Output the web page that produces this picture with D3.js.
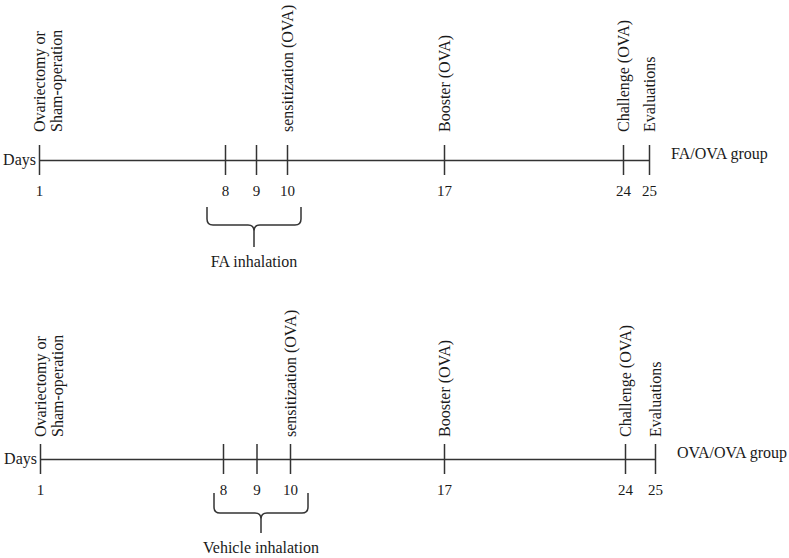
<!DOCTYPE html>
<html>
<head>
<meta charset="utf-8">
<script src="https://cdn.jsdelivr.net/npm/d3@7"></script>
<style>
  body { margin: 0; background: #fff; }
  text { font-family: "Liberation Serif", "Times New Roman", serif; fill: #1a1a1a; }
</style>
</head>
<body>
<div id="chart-area"></div>
<script>
// timeline data
var days = [1, 8, 9, 10, 17, 24, 25];
var eventDays = [1, 10, 17, 24, 25];
var eventLabels = [
    ["Ovariectomy or", "Sham-operation"],
    ["sensitization (OVA)"],
    ["Booster (OVA)"],
    ["Challenge (OVA)"],
    ["Evaluations"]
];
var groups = ["FA/OVA group", "OVA/OVA group"];
var inhalations = ["FA inhalation", "Vehicle inhalation"];
var inhalationDays = [8, 10];

// drawing is schematic (days 8-10 spread out), so piecewise scale
var scaleDays = [1, 8, 10, 17, 24, 25];
var panels = [
    {axisY: 160, range: [39, 225, 287, 444, 623, 649], labelGap: 28, brace: [47, 65, 87], braceLabel: 107, braceX: [-18, 14]},
    {axisY: 459, range: [40, 223, 290, 444, 625, 655], labelGap: 22, brace: [34, 54, 74], braceLabel: 94, braceX: [-9, 18]}
];

var lineColor = "#333";

var svg = d3.select("#chart-area")
  .append("svg")
    .attr("width", 789)
    .attr("height", 558);

panels.forEach((p, k) => {
    var x = d3.scaleLinear()
        .domain(scaleDays)
        .range(p.range);

    var g = svg.append("g")
        .attr("transform", "translate(0, " + p.axisY + ")");

    var axis = d3.axisBottom(x)
        .tickValues(days)
        .tickSizeInner(15)
        .tickSizeOuter(0)
        .tickFormat(d3.format("d"));

    var ax = g.append("g")
        .attr("class", "timeline")
        .call(axis);

    ax.select(".domain")
        .attr("stroke", lineColor)
        .attr("stroke-width", 1.5);
    ax.selectAll(".tick line")
        .attr("y1", -15)
        .attr("stroke", lineColor)
        .attr("stroke-width", 1.5);
    ax.selectAll(".tick text")
        .attr("y", 36)
        .attr("dy", 0)
        .attr("font-size", "15px");

    g.append("text")
        .attr("x", x(days[0]) - 3)
        .attr("y", 5)
        .attr("text-anchor", "end")
        .attr("font-size", "16px")
        .text("Days");

    g.append("text")
        .attr("x", x(days[days.length - 1]) + 22)
        .attr("y", -1)
        .attr("font-size", "16px")
        .text(groups[k]);

    // vertical event labels
    eventDays.forEach((d, i) => {
        eventLabels[i].forEach((line, j) => {
            g.append("text")
                .attr("transform", "translate(" + (x(d) + 6 + j * 17) + ", " + (-p.labelGap) + ") rotate(-90)")
                .attr("font-size", "16px")
                .text(line);
        });
    });

    // curly brace under the inhalation days
    var x0 = x(inhalationDays[0]) + p.braceX[0];
    var x1 = x(inhalationDays[1]) + p.braceX[1];
    var cx = (x0 + x1) / 2;
    var t = p.brace[0], h = p.brace[1], tip = p.brace[2], r = 6;
    var path = d3.path();
    path.moveTo(x0, t);
    path.lineTo(x0, h - r);
    path.quadraticCurveTo(x0, h, x0 + r, h);
    path.lineTo(cx - r, h);
    path.quadraticCurveTo(cx, h, cx, h + r);
    path.lineTo(cx, tip);
    path.moveTo(cx, h + r);
    path.quadraticCurveTo(cx, h, cx + r, h);
    path.lineTo(x1 - r, h);
    path.quadraticCurveTo(x1, h, x1, h - r);
    path.lineTo(x1, t);

    g.append("path")
        .attr("d", path.toString())
        .attr("fill", "none")
        .attr("stroke", lineColor)
        .attr("stroke-width", 1.5);

    g.append("text")
        .attr("x", cx)
        .attr("y", p.braceLabel)
        .attr("text-anchor", "middle")
        .attr("font-size", "16px")
        .text(inhalations[k]);
});
</script>
</body>
</html>
